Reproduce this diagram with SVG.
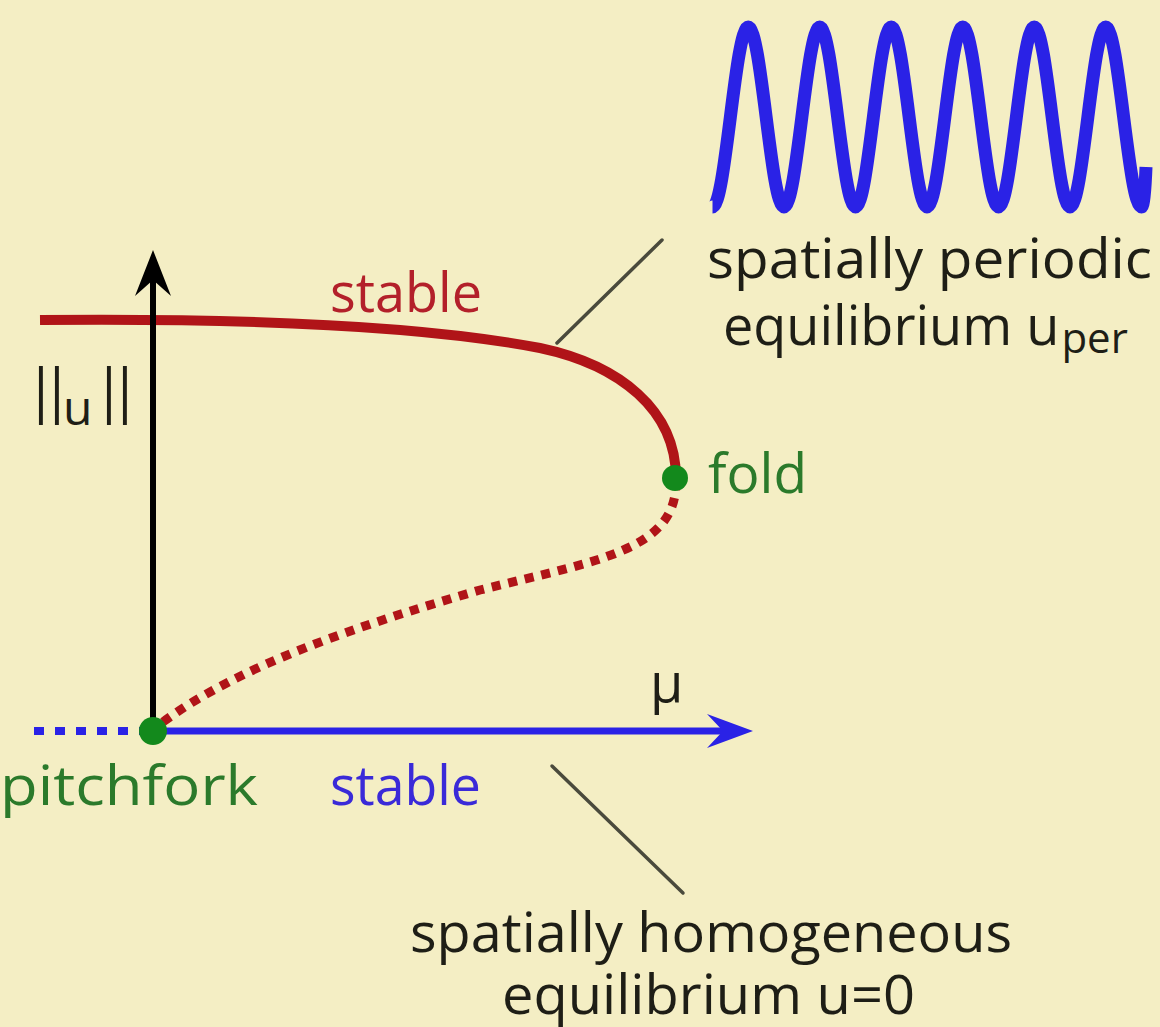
<svg xmlns="http://www.w3.org/2000/svg" width="1160" height="1027" viewBox="0 0 1160 1027">
<defs>
<style>
text{font-family:"Open Sans","Lato","DejaVu Sans",sans-serif;font-size:54px}
.blk{fill:#1e1e16}
.grn{fill:#2b7a2b}
.red{fill:#b3202a}
.blu{fill:#3a2ad8}
.lead{stroke:#4a4a3c;stroke-width:3.5;fill:none;stroke-linecap:round}
.dotg{fill:#13891c}
.bar{font-size:58px}
</style>
<marker id="ahBlack" viewBox="-50 -20 55 40" refX="-14" refY="0" markerWidth="55" markerHeight="40" markerUnits="userSpaceOnUse" orient="auto">
<path d="M0,0 L-46,-18 L-30,0 L-46,18 Z" fill="#000"/>
</marker>
<marker id="ahBlue" viewBox="-50 -20 55 40" refX="-14" refY="0" markerWidth="55" markerHeight="40" markerUnits="userSpaceOnUse" orient="auto">
<path d="M0,0 L-46,-17 L-30,0 L-46,17 Z" fill="#2a22e6"/>
</marker>
</defs>
<rect width="1160" height="1027" fill="#f4eec4"/>

<g id="wave">
<path d="M712.5,207 c 6.47,0 12.05,-43.9 17.875,-90 c 5.83,-46.1 11.41,-90 17.875,-90 c 6.47,0 12.05,43.9 17.875,90 c 5.83,46.1 11.41,90 17.875,90 c 6.47,0 12.05,-43.9 17.875,-90 c 5.83,-46.1 11.41,-90 17.875,-90 c 6.47,0 12.05,43.9 17.875,90 c 5.83,46.1 11.41,90 17.875,90 c 6.47,0 12.05,-43.9 17.875,-90 c 5.83,-46.1 11.41,-90 17.875,-90 c 6.47,0 12.05,43.9 17.875,90 c 5.83,46.1 11.41,90 17.875,90 c 6.47,0 12.05,-43.9 17.875,-90 c 5.83,-46.1 11.41,-90 17.875,-90 c 6.47,0 12.05,43.9 17.875,90 c 5.83,46.1 11.41,90 17.875,90 c 6.47,0 12.05,-43.9 17.875,-90 c 5.83,-46.1 11.41,-90 17.875,-90 c 6.47,0 12.05,43.9 17.875,90 c 5.83,46.1 11.41,90 17.875,90 c 6.47,0 12.05,-43.9 17.875,-90 c 5.83,-46.1 11.41,-90 17.875,-90 c 6.47,0 12.05,43.9 17.875,90 c 5.83,46.1 11.41,90 17.875,90 c 2,0 3.5,-15 4.5,-40" fill="none" stroke="#2a22e6" stroke-width="13" stroke-linejoin="round"/>
</g>

<g id="connectors">
<path id="branch-stable" d="M40,320 C250,318 420,325 540,348 C620,365 676,410 676,478" fill="none" stroke="#b01418" stroke-width="10"/>
<path id="branch-unstable" d="M163,722 C240,665 360,625 480,590 C600,560 676,550 676,482" fill="none" stroke="#b01418" stroke-width="9" stroke-dasharray="9 8"/>
<line id="axis-u" x1="153" y1="731" x2="153" y2="264" stroke="#000" stroke-width="6" marker-end="url(#ahBlack)"/>
<line id="trivial-unstable" x1="34" y1="731" x2="140" y2="731" stroke="#2a22e6" stroke-width="8" stroke-dasharray="10 11"/>
<line id="axis-mu" x1="153" y1="731" x2="739" y2="731" stroke="#2a22e6" stroke-width="7" marker-end="url(#ahBlue)"/>
<line id="leader-per" class="lead" x1="557" y1="343" x2="662" y2="240"/>
<line id="leader-hom" class="lead" x1="552" y1="766" x2="683" y2="893"/>
</g>

<g id="fold">
<circle class="dotg" cx="675" cy="478" r="13"/>
<text class="grn" x="708" y="493" textLength="99" lengthAdjust="spacingAndGlyphs">fold</text>
</g>

<g id="pitchfork">
<circle class="dotg" cx="153" cy="731" r="14"/>
<text class="grn" x="0" y="805" textLength="258" lengthAdjust="spacingAndGlyphs">pitchfork</text>
</g>

<g id="labels">
<text class="red" x="330" y="312" textLength="152" lengthAdjust="spacingAndGlyphs">stable</text>
<text class="blu" x="330" y="805" textLength="151" lengthAdjust="spacingAndGlyphs">stable</text>
<text class="blk" y="425"><tspan class="bar" x="25" y="411">|</tspan><tspan class="bar" x="41" y="411">|</tspan><tspan x="63" y="425" style="font-size:48px">u</tspan><tspan class="bar" x="93" y="411">|</tspan><tspan class="bar" x="109" y="411">|</tspan></text>
<text class="blk" x="650" y="702">μ</text>
</g>

<g id="periodic-label">
<text class="blk" x="707" y="278" textLength="445" lengthAdjust="spacingAndGlyphs">spatially periodic</text>
<text class="blk" x="723" y="345">equilibrium u<tspan dx="2" dy="8" style="font-size:42px">per</tspan></text>
</g>

<g id="homogeneous-label">
<text class="blk" x="410" y="952" textLength="602" lengthAdjust="spacingAndGlyphs">spatially homogeneous</text>
<text class="blk" x="502" y="1014" textLength="413" lengthAdjust="spacingAndGlyphs">equilibrium u=0</text>
</g>
</svg>
